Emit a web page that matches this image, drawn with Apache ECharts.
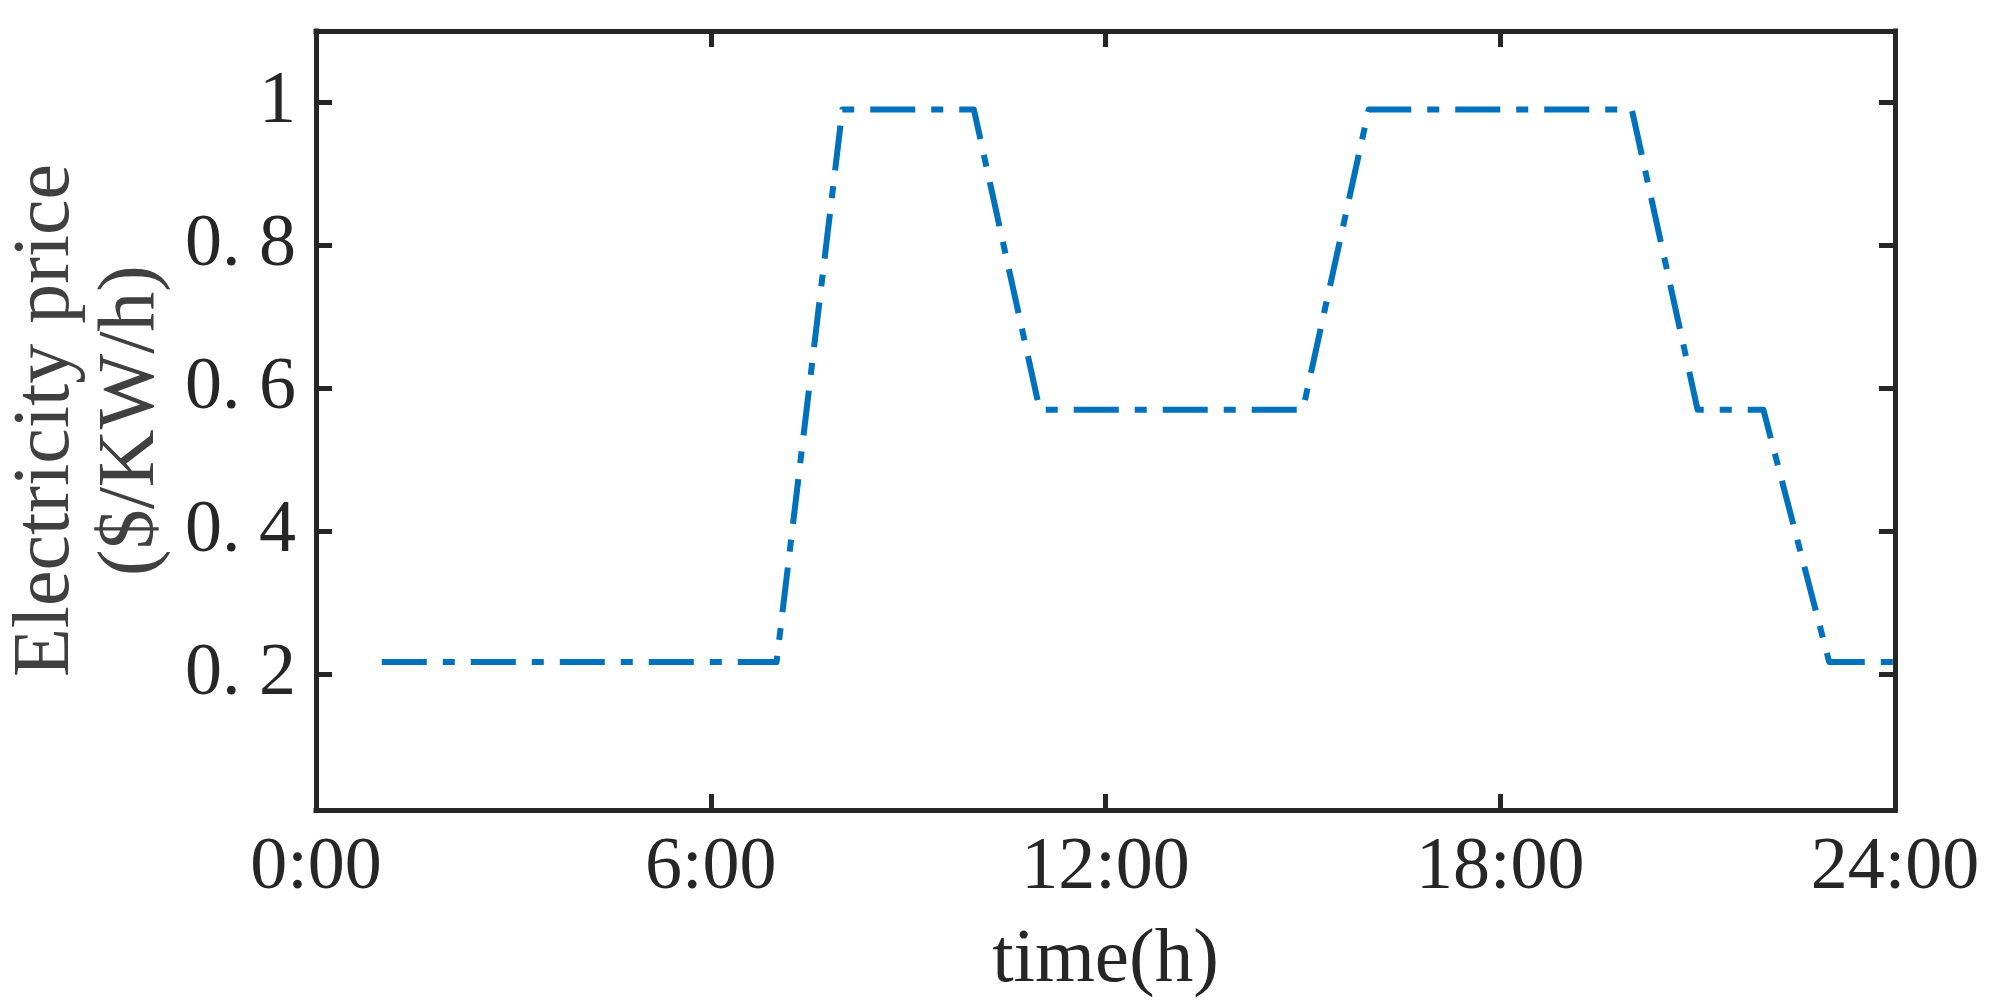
<!DOCTYPE html>
<html>
<head>
<meta charset="utf-8">
<title>Electricity price</title>
<script src="https://cdn.jsdelivr.net/npm/echarts@6/dist/echarts.min.js"></script>
<style>
  html, body { margin: 0; padding: 0; background: #fff; }
  #chart { width: 1993px; height: 1004px; }
</style>
</head>
<body>
<div id="chart"></div>
<script>
// hour of day (x) and price in $/KW/h (y)
var hours = [1, 2, 3, 4, 5, 6, 7, 8, 9, 10, 11, 12, 13, 14, 15, 16, 17, 18, 19, 20, 21, 22, 23, 24];
var prices = [0.217, 0.217, 0.217, 0.217, 0.217, 0.217, 0.217, 0.99, 0.99, 0.99,
  0.57, 0.57, 0.57, 0.57, 0.57, 0.99, 0.99, 0.99, 0.99, 0.99, 0.57, 0.57, 0.217, 0.217];
var xTicks = [0, 6, 12, 18, 24];
var yTicks = [0.2, 0.4, 0.6, 0.8, 1];

var axisColor = "#262626";
var font = "Liberation Serif";

var chart = echarts.init(document.getElementById("chart"));

var points = hours.map(function (h, i) {
  return [h, prices[i]];
});

function yLabel(v) {
  if (v === 1) return "1";
  return v.toFixed(1).replace(".", ". ");
}

var tickStyle = { color: axisColor, width: 5 };
var lineStyle = { color: axisColor, width: 5, cap: "square" };

var option = {
  backgroundColor: "#fff",
  animation: false,
  grid: {
    left: 316,
    right: 98,
    top: 31,
    bottom: 194,
    containLabel: false,
    outerBoundsMode: "none",
  },
  xAxis: [
    {
      type: "value",
      min: 0,
      max: 24,
      interval: 6,
      name: "time(h)",
      nameLocation: "middle",
      nameGap: 112,
      nameTextStyle: { fontFamily: font, fontSize: 77, color: axisColor },
      axisLine: { onZero: false, lineStyle: lineStyle },
      axisTick: { inside: true, length: 16, lineStyle: tickStyle, customValues: xTicks },
      axisLabel: {
        customValues: xTicks,
        margin: 22,
        fontFamily: font,
        fontSize: 74,
        color: axisColor,
        formatter: function (v) { return v + ":00"; },
      },
      splitLine: { show: false },
    },
    {
      type: "value",
      position: "top",
      min: 0,
      max: 24,
      interval: 6,
      axisLine: { onZero: false, lineStyle: lineStyle },
      axisTick: { inside: true, length: 16, lineStyle: tickStyle, customValues: xTicks },
      axisLabel: { show: false },
      splitLine: { show: false },
    },
  ],
  yAxis: [
    {
      type: "value",
      min: 0.01,
      max: 1.1,
      name: "Electricity price\n($/KW/h)",
      nameLocation: "middle",
      nameRotate: 90,
      nameGap: 123,
      nameTextStyle: { fontFamily: font, fontSize: 80, lineHeight: 85, color: "#404040" },
      axisLine: { show: true, onZero: false, lineStyle: lineStyle },
      axisTick: { show: true, inside: true, length: 16, lineStyle: tickStyle, customValues: yTicks },
      axisLabel: {
        customValues: yTicks,
        margin: 20,
        fontFamily: font,
        fontSize: 74,
        color: axisColor,
        formatter: yLabel,
      },
      splitLine: { show: false },
    },
    {
      type: "value",
      position: "right",
      min: 0.01,
      max: 1.1,
      axisLine: { show: true, onZero: false, lineStyle: lineStyle },
      axisTick: { show: true, inside: true, length: 16, lineStyle: tickStyle, customValues: yTicks },
      axisLabel: { show: false },
      splitLine: { show: false },
    },
  ],
  series: [
    {
      type: "line",
      xAxisIndex: 0,
      yAxisIndex: 0,
      data: points,
      showSymbol: false,
      symbol: "none",
      lineStyle: {
        color: "#0072BD",
        width: 6,
        type: [45, 16, 12, 16],
        cap: "butt",
        join: "round",
      },
    },
  ],
};

chart.setOption(option);
</script>
</body>
</html>
